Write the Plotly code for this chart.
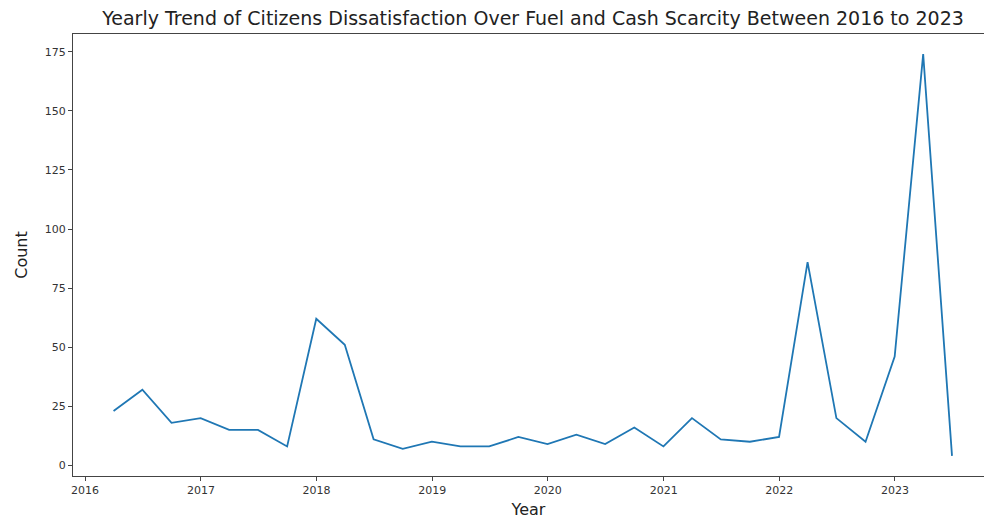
import plotly.graph_objects as go

quarters = [
    "2016-03-31", "2016-06-30", "2016-09-30", "2016-12-31",
    "2017-03-31", "2017-06-30", "2017-09-30", "2017-12-31",
    "2018-03-31", "2018-06-30", "2018-09-30", "2018-12-31",
    "2019-03-31", "2019-06-30", "2019-09-30", "2019-12-31",
    "2020-03-31", "2020-06-30", "2020-09-30", "2020-12-31",
    "2021-03-31", "2021-06-30", "2021-09-30", "2021-12-31",
    "2022-03-31", "2022-06-30", "2022-09-30", "2022-12-31",
    "2023-03-31", "2023-06-30",
]
counts = [
    23, 32, 18, 20,
    15, 15, 8, 62,
    51, 11, 7, 10,
    8, 8, 12, 9,
    13, 9, 16, 8,
    20, 11, 10, 12,
    86, 20, 10, 46,
    174, 4,
]
y_ticks = [0, 25, 50, 75, 100, 125, 150, 175]

fig = go.Figure()
fig.add_trace(go.Scatter(
    x=quarters, y=counts, mode="lines",
    line=dict(color="#1f77b4", width=1.8),
    showlegend=False,
))

font_family = "DejaVu Sans"
fig.update_layout(
    width=984, height=519,
    margin=dict(l=73, r=0, t=34, b=43),
    paper_bgcolor="white", plot_bgcolor="white",
    font=dict(family=font_family, color="#333333"),
    title=dict(
        text="Yearly Trend of Citizens Dissatisfaction Over Fuel and Cash Scarcity Between 2016 to 2023",
        x=533 / 984, xref="container", xanchor="center",
        y=(519 - 18) / 519, yref="container", yanchor="middle",
        font=dict(size=19, color="#222222", family=font_family),
    ),
    xaxis=dict(
        type="date",
        range=["2015-11-24", "2023-10-09"],
        dtick="M12", tick0="2016-01-01", tickformat="%Y",
        showgrid=False, zeroline=False,
        showline=True, linecolor="#444444", linewidth=1.2, mirror=True,
        ticks="outside", ticklen=4, tickcolor="#444444",
        tickfont=dict(size=11, color="#333333"),
        title=dict(text="Year", font=dict(size=16, color="#222222"), standoff=9),
    ),
    yaxis=dict(
        range=[-4.5, 182.5],
        tickvals=y_ticks,
        showgrid=False, zeroline=False,
        showline=True, linecolor="#444444", linewidth=1.2,
        ticks="outside", ticklen=4, tickcolor="#444444",
        tickfont=dict(size=11, color="#333333"),
        title=dict(text="Count", font=dict(size=16, color="#222222"), standoff=13),
    ),
)

fig.write_html("out.html")
